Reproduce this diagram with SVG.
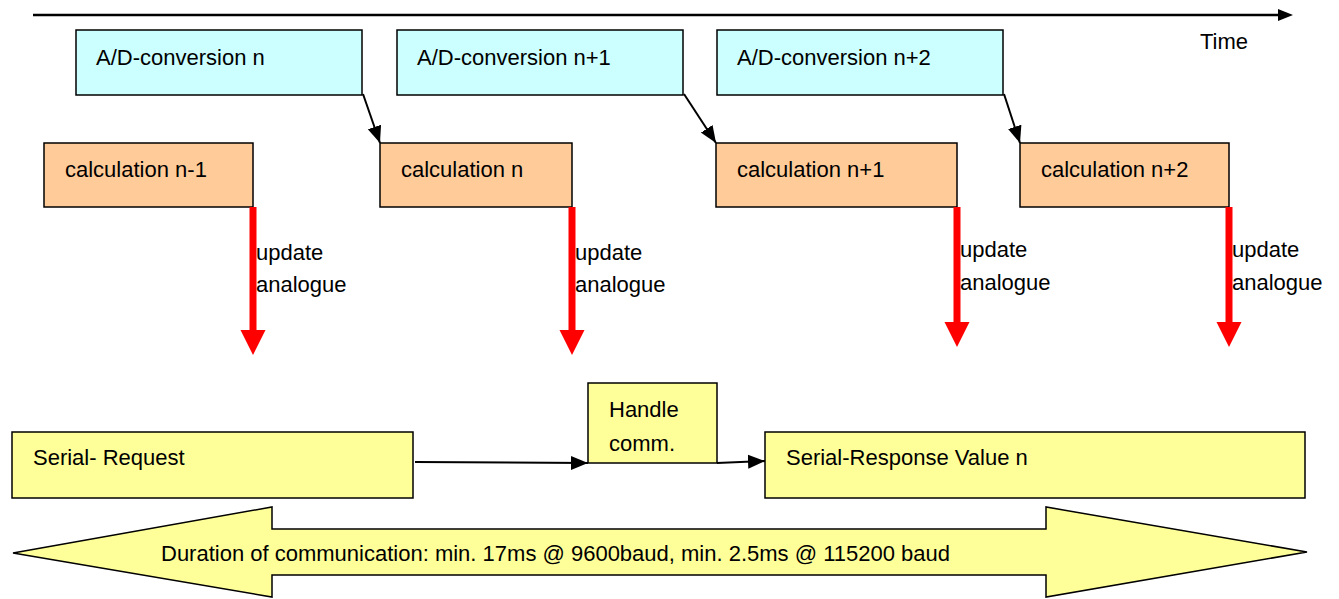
<svg xmlns="http://www.w3.org/2000/svg" width="1339" height="599" viewBox="0 0 1339 599">
<style>
text{font-family:"Liberation Sans",Arial,sans-serif;font-size:22px;fill:#000}
.ad{fill:#CCFFFF;stroke:#000;stroke-width:1.5}
.calc{fill:#FFCC99;stroke:#000;stroke-width:1.5}
.ser{fill:#FFFF99;stroke:#000;stroke-width:1.5}
.conn{stroke:#000;stroke-width:2;fill:none}
.red{fill:#FF0000;stroke:none}
</style>
<defs>
<marker id="ah" markerUnits="userSpaceOnUse" markerWidth="18" markerHeight="16" viewBox="0 0 18 16" refX="17" refY="8" orient="auto">
<path d="M0,1 L17,8 L0,15 Z" fill="#000"/>
</marker>
</defs>
<rect width="1339" height="599" fill="#fff"/>
<g id="time-axis">
<line x1="33" y1="15" x2="1279" y2="15" stroke="#000" stroke-width="2.5"/>
<path d="M1278,9 L1293,15 L1278,21 Z" fill="#000"/>
<text x="1200" y="49">Time</text>
</g>
<g id="ad-n"><rect class="ad" x="76" y="30" width="286" height="65"/><text x="96" y="65">A/D-conversion n</text></g>
<g id="ad-n1"><rect class="ad" x="397" y="30" width="286" height="65"/><text x="417" y="65">A/D-conversion n+1</text></g>
<g id="ad-n2"><rect class="ad" x="717" y="30" width="286" height="65"/><text x="737" y="65">A/D-conversion n+2</text></g>
<g id="calc-nm1"><rect class="calc" x="44" y="143" width="209" height="64"/><text x="65" y="177">calculation n-1</text></g>
<g id="calc-n"><rect class="calc" x="380" y="143" width="192" height="64"/><text x="401" y="177">calculation n</text></g>
<g id="calc-n1"><rect class="calc" x="716" y="143" width="241" height="64"/><text x="737" y="177">calculation n+1</text></g>
<g id="calc-n2"><rect class="calc" x="1020" y="143" width="209" height="64"/><text x="1041" y="177">calculation n+2</text></g>
<g id="serial-request"><rect class="ser" x="12" y="432" width="401" height="66"/><text x="33" y="465">Serial- Request</text></g>
<g id="handle-comm"><rect class="ser" x="588" y="383" width="129" height="80"/><text x="609" y="417">Handle</text><text x="609" y="451">comm.</text></g>
<g id="serial-response"><rect class="ser" x="765" y="432" width="540" height="66"/><text x="786" y="465">Serial-Response Value n</text></g>
<g id="duration">
<polygon class="ser" points="13,553 272,507 272,529 1046,529 1046,507 1307,552 1046,597 1046,575 272,575 272,597"/>
<text x="161" y="561">Duration of communication: min. 17ms @ 9600baud, min. 2.5ms @ 115200 baud</text>
</g>
<g id="connectors">
<line class="conn" x1="363" y1="94" x2="380" y2="143" marker-end="url(#ah)"/>
<line class="conn" x1="684" y1="94" x2="716" y2="143" marker-end="url(#ah)"/>
<line class="conn" x1="1004" y1="94" x2="1020" y2="143" marker-end="url(#ah)"/>
<line class="conn" x1="415" y1="462" x2="588" y2="463" marker-end="url(#ah)"/>
<line class="conn" x1="717" y1="463" x2="765" y2="461" marker-end="url(#ah)"/>
<path class="red" d="M249.5,207 H256.5 V330 H265.5 L253,355 L240.5,330 H249.5 Z"/>
<path class="red" d="M568.5,207 H575.5 V330 H584.5 L572,355 L559.5,330 H568.5 Z"/>
<path class="red" d="M953.5,207 H960.5 V322 H969.5 L957,347 L944.5,322 H953.5 Z"/>
<path class="red" d="M1225.5,207 H1232.5 V322 H1241.5 L1229,347 L1216.5,322 H1225.5 Z"/>
</g>
<g id="labels">
<text x="256" y="260">update</text><text x="256" y="292">analogue</text>
<text x="575" y="260">update</text><text x="575" y="292">analogue</text>
<text x="960" y="257">update</text><text x="960" y="290">analogue</text>
<text x="1232" y="257">update</text><text x="1232" y="290">analogue</text>
</g>
</svg>
